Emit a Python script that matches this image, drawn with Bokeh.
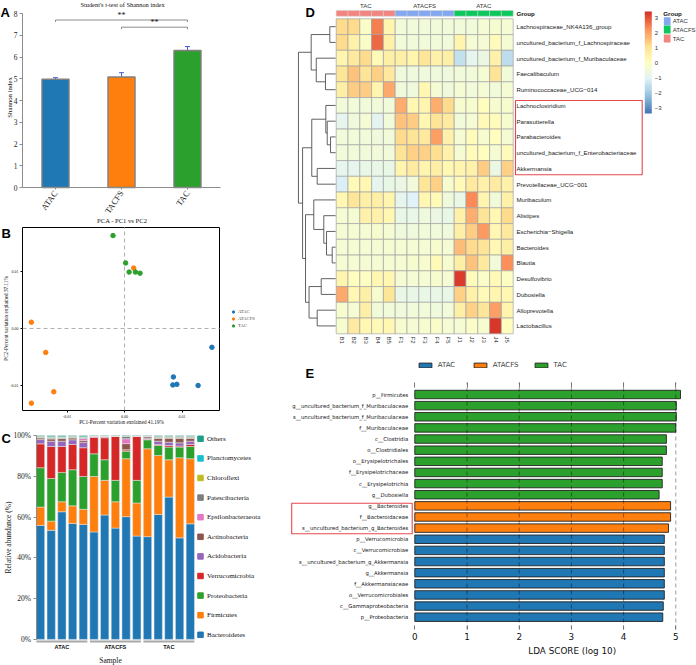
import math
import numpy as np
from bokeh.plotting import figure
from bokeh.models import (Range1d, FixedTicker, LinearAxis, Legend, LegendItem,
                          ColumnDataSource, Whisker, TeeHead, ColorBar, LinearColorMapper,
                          NumeralTickFormatter, PrintfTickFormatter)
from bokeh.layouts import row, column
from bokeh.embed import file_html
from bokeh.resources import INLINE
from bokeh.core.properties import value

# ======================= DATA =======================
# --- A: Shannon index
shannon_groups = ["ATAC", "TACFS", "TAC"]
shannon_mean = [4.98, 5.08, 6.30]
shannon_err = [0.07, 0.20, 0.18]
sig_pairs = [(1, 3), (2, 3)]          # bar positions compared
sig_level = [7.70, 7.37]
sig_text = ["**", "**"]
shannon_ticks = [0, 1, 2, 3, 4, 5, 6, 7, 8]

# --- B: PCA
pca_groups = ["ATAC", "ATACFS", "TAC"]
pc1_atac = [0.0152, 0.0085, 0.0084, 0.0091, 0.0128]
pc2_atac = [-0.0033, -0.0085, -0.0099, -0.0098, -0.0100]
pc1_atacfs = [0.0016, -0.0162, -0.0137, -0.0123, -0.0162]
pc2_atacfs = [0.0106, 0.0011, -0.0042, -0.0111, -0.0131]
pc1_tac = [-0.0020, 0.0002, 0.0008, 0.0019, 0.0027]
pc2_tac = [0.0163, 0.0115, 0.0099, 0.0099, 0.0097]
pca_ticks = [-0.01, 0.0, 0.01]

# --- C: relative abundance (phylum), 15 samples: ATAC x5, ATACFS x5, TAC x5
sample_groups = ["ATAC", "ATACFS", "TAC"]
samples_per_group = 5
phyla = ["Bacteroidetes", "Firmicutes", "Proteobacteria", "Verrucomicrobia", "Acidobacteria",
         "Actinobacteria", "Epsilonbacteraeota", "Patescibacteria", "Chloroflexi",
         "Planctomycetes", "Others"]
bacteroidetes = [55.9, 53.5, 62.6, 56.9, 56.4, 52.7, 61.0, 54.6, 60.2, 50.7, 50.4, 61.3, 69.8, 49.8, 56.7]
firmicutes = [9.0, 4.5, 4.9, 8.6, 7.4, 27.2, 17.0, 12.9, 28.4, 16.2, 43.1, 28.9, 18.3, 39.3, 31.9]
proteobacteria = [19.3, 20.9, 14.4, 17.7, 16.1, 11.1, 10.1, 10.5, 3.7, 11.1, 4.4, 4.9, 6.2, 5.2, 6.0]
verrucomicrobia = [11.7, 15.7, 12.7, 12.4, 14.1, 8.2, 10.8, 21.7, 0.7, 21.7, 0.2, 0.5, 0.8, 0.5, 1.0]
acidobacteria = [2.1, 2.6, 2.6, 2.3, 2.6, 0.1, 0.1, 0.0, 0.0, 0.0, 0.4, 1.6, 1.6, 1.6, 1.6]
actinobacteria = [0.9, 1.2, 1.3, 1.0, 0.9, 0.4, 0.5, 0.1, 3.0, 0.1, 0.9, 1.5, 2.0, 2.3, 1.5]
epsilonbacteraeota = [0.0, 0.0, 0.0, 0.0, 1.0, 0.0, 0.0, 0.0, 2.4, 0.0, 0.0, 0.0, 0.0, 0.0, 0.0]
patescibacteria = [0.3, 0.4, 0.4, 0.3, 0.4, 0.1, 0.2, 0.0, 1.2, 0.0, 0.2, 0.5, 0.5, 0.5, 0.5]
chloroflexi = [0.2, 0.3, 0.3, 0.2, 0.3, 0.0, 0.0, 0.0, 0.0, 0.0, 0.0, 0.2, 0.2, 0.2, 0.2]
planctomycetes = [0.1, 0.3, 0.2, 0.1, 0.2, 0.0, 0.0, 0.0, 0.0, 0.0, 0.1, 0.1, 0.1, 0.1, 0.1]
others = [0.5, 0.6, 0.6, 0.5, 0.6, 0.2, 0.3, 0.2, 0.4, 0.2, 0.3, 0.5, 0.5, 0.5, 0.5]
phylum_values = [bacteroidetes, firmicutes, proteobacteria, verrucomicrobia, acidobacteria,
                 actinobacteria, epsilonbacteraeota, patescibacteria, chloroflexi, planctomycetes, others]
abundance_ticks = [0, 20, 40, 60, 80, 100]

# --- D: heatmap (row z-scores)
heat_cols = ["B1", "B2", "B3", "B4", "B5", "F1", "F2", "F3", "F4", "F5", "J1", "J2", "J3", "J4", "J5"]
heat_col_groups = ["TAC", "ATACFS", "ATAC"]
heat_rows = ["Lachnospiraceae_NK4A136_group", "uncultured_bacterium_f_Lachnospiraceae",
             "uncultured_bacterium_f_Muribaculaceae", "Faecalibaculum", "Ruminococcaceae_UCG\u2212014",
             "Lachnoclostridium", "Parasutterella", "Parabacteroides",
             "uncultured_bacterium_f_Enterobacteriaceae", "Akkermansia", "Prevotellaceae_UCG\u2212001",
             "Muribaculum", "Alistipes", "Escherichia\u2212Shigella", "Bacteroides", "Blautia",
             "Desulfovibrio", "Dubosiella", "Alloprevotella", "Lactobacillus"]
heat_z = [
    [1.2, 1.2, -0.2, 2.4, 0.4, -0.5, -0.5, -0.5, -0.5, -0.5, -0.5, -0.5, -0.4, -0.3, -0.4],
    [1.2, 0.5, -0.2, 2.7, 0.5, -0.5, -0.5, -0.5, -0.5, -0.5, 0.4, -0.4, -0.4, 0.1, -0.4],
    [0.4, 0.8, 1.2, 0.2, 0.6, 0.6, 0.4, 0.9, 0.5, 0.6, -1.5, -0.9, -0.7, 0.5, -1.6],
    [0.9, 1.5, 1.0, 1.3, 0.8, -0.6, -0.6, -0.6, -0.6, -0.6, -0.5, -0.5, -0.4, 1.0, -0.5],
    [0.6, 1.4, 1.4, 0.4, 1.9, -0.6, -0.6, 0.3, -0.4, -0.6, -0.4, -0.5, -0.4, -0.5, -0.4],
    [-0.5, -0.5, -0.5, -0.5, -0.5, 1.8, 0.3, 0.4, 1.8, 1.2, -0.3, -0.3, 0.0, -0.3, -0.3],
    [-0.9, -0.6, -0.4, -1.0, -0.5, 1.5, 1.4, 0.3, 1.0, 0.7, -0.5, -0.4, 0.2, 0.1, -0.3],
    [-0.5, -0.5, -0.5, -0.6, -0.5, 1.2, 1.0, 0.8, 2.0, 0.5, -0.4, 0.1, -0.3, 0.0, -0.4],
    [-0.5, -0.5, -0.5, -0.5, -0.5, 1.0, 1.3, 1.3, 1.1, 0.5, -0.4, 0.1, 0.0, -0.4, 0.1],
    [-0.9, -0.9, -0.8, -0.8, -0.8, 0.4, 0.7, 0.4, 0.6, 0.3, 0.4, 0.5, 1.4, -0.7, 1.3],
    [-1.2, 0.2, 0.3, -0.9, -0.8, -0.7, -0.5, 0.9, 1.3, -0.3, 0.2, 0.8, 0.5, 0.7, 0.5],
    [0.3, 0.9, 0.6, 0.6, 0.4, -0.9, -1.1, 0.3, 0.2, -0.6, -0.8, 2.3, 0.4, -0.5, 0.5],
    [-0.4, -0.4, 0.5, 0.5, 0.3, -0.8, -0.8, -0.6, -0.7, -0.8, 0.5, 1.8, 1.0, 0.3, 1.2],
    [-0.4, -0.4, -0.4, -0.3, -0.4, -0.6, -0.6, -0.5, -0.5, -0.6, 0.6, 1.4, 2.1, 0.3, 0.8],
    [-0.4, -0.4, -0.4, -0.4, -0.4, -0.4, -0.4, -0.4, -0.3, -0.4, 1.6, 1.2, 1.0, 0.3, 0.6],
    [-0.4, -0.4, -0.4, -0.4, -0.4, -0.4, -0.3, -0.3, 0.2, -0.3, 0.6, 1.5, 0.8, -0.5, 2.2],
    [0.4, 0.0, -0.1, 0.3, 0.3, -0.4, -0.4, -0.4, -0.3, -0.4, 3.2, 0.1, -0.2, 0.2, -0.1],
    [1.9, 0.3, 0.6, -0.3, 0.9, -0.8, -0.8, -0.8, -0.8, -0.8, 1.3, 0.5, 0.2, 0.4, 0.3],
    [-0.3, -0.4, 0.6, -0.5, -0.5, -0.6, -0.5, -0.5, -0.6, -0.5, 0.6, 1.3, 0.9, 2.0, 0.4],
    [-0.3, 0.7, 0.3, 0.2, 0.3, -0.3, -0.4, -0.3, -0.2, -0.4, -0.4, -0.2, -0.3, 3.3, 0.0],
]
# row dendrogram merges: (child a, child b, merge height); leaves 0..19, new nodes 20..
dendro_merges = [
    (0, 1, 0.54), (3, 4, 0.91), (2, 21, 1.69), (20, 22, 2.12),
    (7, 8, 0.48), (6, 24, 0.76), (5, 25, 0.88), (9, 10, 1.61), (26, 27, 2.07),
    (14, 15, 0.34), (13, 29, 0.82), (12, 30, 1.05), (11, 31, 1.90),
    (16, 17, 1.27), (18, 19, 1.61), (33, 34, 2.30), (32, 35, 2.60),
    (28, 36, 2.85), (23, 37, 3.20),
]
legend_groups_D = ["ATAC", "ATACFS", "TAC"]
color_ticks = [-3, -2, -1, 0, 1, 2, 3]

# --- E: LEfSe LDA
lda_features = ["p__Firmicutes", "g__uncultured_bacterium_f_Muribaculaceae",
                "s__uncultured_bacterium_f_Muribaculaceae", "f__Muribaculaceae", "c__Clostridia",
                "o__Clostridiales", "o__Erysipelotrichales", "f__Erysipelotrichaceae",
                "c__Erysipelotrichia", "g__Dubosiella", "g__Bacteroides", "f__Bacteroidaceae",
                "s__uncultured_bacterium_g_Bacteroides", "p__Verrucomicrobia", "c__Verrucomicrobiae",
                "s__uncultured_bacterium_g_Akkermansia", "g__Akkermansia", "f__Akkermansiaceae",
                "o__Verrucomicrobiales", "c__Gammaproteobacteria", "p__Proteobacteria"]
lda_scores = [5.09, 5.01, 5.01, 5.00, 4.82, 4.82, 4.74, 4.74, 4.74, 4.68,
              4.90, 4.90, 4.86, 4.78, 4.78, 4.78, 4.78, 4.78, 4.78, 4.76, 4.75]
lda_groups = ["TAC"] * 10 + ["ATACFS"] * 3 + ["ATAC"] * 8
lda_legend = ["ATAC", "ATACFS", "TAC"]
lda_ticks = [0, 1, 2, 3, 4, 5]

# ======================= STYLE / LAYOUT =======================
SERIF = "Liberation Serif"
SANS = "Liberation Sans"
DJ = "DejaVu Sans"
BLUE, ORANGE, GREEN = "#1f77b4", "#ff7f0e", "#2ca02c"
PHY_COLORS = ["#1f77b4", "#ff7f0e", "#2ca02c", "#d62728", "#9467bd", "#8c564b", "#e377c2",
              "#7f7f7f", "#bcbd22", "#17becf", "#1a9f86"]


def fs(v):
    return f"{v:.1f}px"


def make_fig(box, X, Y):
    """Figure whose plotting frame fills the whole box; ranges follow the px->data maps."""
    fx0, fy0, fx1, fy1 = box
    p = figure(width=fx1 - fx0, height=fy1 - fy0,
               x_range=Range1d(X(fx0), X(fx1)), y_range=Range1d(Y(fy1), Y(fy0)),
               x_axis_location=None, y_axis_location=None,
               min_border=0, min_border_left=0, min_border_right=0, min_border_top=0,
               min_border_bottom=0, toolbar_location=None, output_backend="svg")
    p.outline_line_color = None
    p.grid.visible = False
    return p


def txt(p, x, y, text, size, font=SERIF, style="normal", align="center", baseline="middle",
        angle=0.0, color="#111111"):
    p.text(x=x, y=y, text=text, text_align=align, text_baseline=baseline, angle=angle,
           text_font=value(font), text_font_size=value(fs(size)), text_font_style=style,
           text_color=color)


def letter(p, x, y, t):
    txt(p, [x], [y], [t], 13, font=SANS, style="bold", align="left", baseline="alphabetic",
        color="black")


def style_axis(ax, font, size, color="#8c8c8c"):
    ax.axis_line_color = color
    ax.major_tick_line_color = color
    ax.minor_tick_line_color = None
    ax.major_tick_in = 0
    ax.major_tick_out = 3
    ax.major_label_text_font = font
    ax.major_label_text_font_size = fs(size)
    ax.major_label_text_color = "#222222"
    ax.major_label_standoff = 2


# ---------------------------- Panel A ----------------------------
AX = lambda px: 1 + (px - 55) / 66.0
AY = lambda py: (187 - py) / 21.75
pA = make_fig((0, 0, 290, 215), AX, AY)
xa = list(range(1, len(shannon_groups) + 1))
pA.vbar(x=xa, top=shannon_mean, width=0.41, fill_color=[BLUE, ORANGE, GREEN],
        line_color="#808080", line_width=1.4)
EB = "#3f5fd8"
wsrc = ColumnDataSource(dict(base=xa,
                             upper=[m + e for m, e in zip(shannon_mean, shannon_err)],
                             lower=[m - e for m, e in zip(shannon_mean, shannon_err)]))
wh = Whisker(source=wsrc, base="base", upper="upper", lower="lower", line_color=EB, line_width=1)
wh.upper_head = TeeHead(size=5, line_color=EB, line_width=1)
wh.lower_head = TeeHead(size=5, line_color=EB, line_width=1)
pA.add_layout(wh)
pA.multi_line(xs=[[a, a, b, b] for a, b in sig_pairs],
              ys=[[y - 0.09, y, y, y - 0.09] for y in sig_level],
              line_color="#707070", line_width=0.8)
txt(pA, [(a + b) / 2 for a, b in sig_pairs], [y + 0.2 for y in sig_level], sig_text, 8)
yaxA = LinearAxis(fixed_location=AX(22), bounds=(0, 8), ticker=FixedTicker(ticks=shannon_ticks))
style_axis(yaxA, SERIF, 7.5)
pA.add_layout(yaxA, "left")
xaxA = LinearAxis(fixed_location=0, bounds=(AX(22), AX(220)), ticker=FixedTicker(ticks=xa),
                  major_label_overrides={i: g for i, g in zip(xa, shannon_groups)})
style_axis(xaxA, SERIF, 8.5)
xaxA.major_label_orientation = 0.96
xaxA.major_tick_out = 2
pA.add_layout(xaxA, "below")
txt(pA, [AX(9)], [AY(97)], ["Shannon index"], 6.8, angle=math.pi / 2)
txt(pA, [AX(122)], [AY(4)], ["Student's t-test of Shannon index"], 6.4)
letter(pA, AX(0), AY(11.7), "A")

# ---------------------------- Panel B ----------------------------
BX = lambda px: (px - 124) / 57.5 * 0.01
BY = lambda py: (328 - py) / 57.0 * 0.01
pB = make_fig((0, 215, 290, 424), BX, BY)
pB.quad(left=[BX(22)], right=[BX(219)], top=[BY(227)], bottom=[BY(410)], fill_color=None,
        line_color="black", line_width=1)
pB.segment(x0=[0, BX(22)], y0=[BY(410), 0], x1=[0, BX(219)], y1=[BY(227), 0],
           line_color="#b0b0b0", line_dash="4 3", line_width=1)
items = []
for g, xs, ys, c in zip(pca_groups, [pc1_atac, pc1_atacfs, pc1_tac], [pc2_atac, pc2_atacfs, pc2_tac],
                        [BLUE, ORANGE, GREEN]):
    r = pB.scatter(xs, ys, size=4.5, fill_color=c, line_color=c)
    items.append(LegendItem(label=g, renderers=[r]))
legB = Legend(items=items, location=(230, 424 - 329.2), padding=0, margin=0, spacing=0,
              glyph_width=6, glyph_height=7, label_height=7, label_standoff=2,
              label_text_font=SERIF, label_text_font_size=fs(4.6), border_line_color=None,
              background_fill_alpha=0)
pB.add_layout(legB)
xaxB = LinearAxis(fixed_location=BY(410), bounds=(BX(22), BX(219)),
                  ticker=FixedTicker(ticks=pca_ticks), formatter=NumeralTickFormatter(format="0.00"))
yaxB = LinearAxis(fixed_location=BX(22), bounds=(BY(410), BY(227)),
                  ticker=FixedTicker(ticks=pca_ticks), formatter=NumeralTickFormatter(format="0.00"))
for ax in (xaxB, yaxB):
    style_axis(ax, SERIF, 4.0, color="black")
    ax.axis_line_color = None
    ax.major_tick_out = 2
pB.add_layout(xaxB, "below")
pB.add_layout(yaxB, "left")
txt(pB, [BX(121)], [BY(421)], ["PC1-Percent variation explained 41.19%"], 5.2)
txt(pB, [BX(5)], [BY(318)], ["PC2-Percent variation explained 37.11%"], 5.2, angle=math.pi / 2)
txt(pB, [BX(121.7)], [BY(219.5)], ["PCA - PC1 vs PC2"], 6.6)
letter(pB, BX(1), BY(233), "B")

# ---------------------------- Panel C ----------------------------
CX = lambda px: 1 + (px - 40) / 10.7
CY = lambda py: (638.9 - py) / 2.039
pC = make_fig((0, 424, 290, 665), CX, CY)
n_samples = len(bacteroidetes)
csrc = dict(x=list(range(1, n_samples + 1)))
for name, vals in zip(phyla, phylum_values):
    csrc[name] = vals
pC.vbar_stack(phyla, x="x", width=0.78, color=PHY_COLORS, source=ColumnDataSource(csrc),
              line_color="#e6e6e6", line_width=0.5)
g_start = [1 + i * samples_per_group for i in range(len(sample_groups))]
pC.segment(x0=[s - 0.38 for s in g_start], y0=[CY(641)] * 3,
           x1=[s + samples_per_group - 1 + 0.38 for s in g_start], y1=[CY(641)] * 3,
           line_color="#a8a8a8", line_width=2.2)
yaxC = LinearAxis(fixed_location=CX(35.5), bounds=(0, 100), ticker=FixedTicker(ticks=abundance_ticks),
                  formatter=PrintfTickFormatter(format="%d%%"))
style_axis(yaxC, SERIF, 7.5)
pC.add_layout(yaxC, "left")
txt(pC, [s + (samples_per_group - 1) / 2 for s in g_start], [CY(646.5)] * 3, sample_groups, 5.6,
    font=SANS, style="bold")
txt(pC, [CX(110)], [CY(660)], ["Sample"], 7.5)
txt(pC, [CX(8)], [CY(537)], ["Relative abundance (%)"], 7.5, angle=math.pi / 2)
leg_names = phyla[::-1]
leg_cols = PHY_COLORS[::-1]
leg_y = [CY(438.3 + i * 19.6) for i in range(len(leg_names))]
pC.scatter(x=[CX(200)] * len(leg_names), y=leg_y, marker="square", size=5.5,
           fill_color=leg_cols, line_color=leg_cols)
txt(pC, [CX(206.5)] * len(leg_names), leg_y, leg_names, 7.0, align="left")
letter(pC, CX(1), CY(437.5), "C")

# ---------------------------- Panel D ----------------------------
DX = lambda px: (px - 335.7) / 11.8
DY = lambda py: 20 - (py - 18.3) / 15.75
pD = make_fig((290, 0, 696, 352), DX, DY)
base7 = ["#4575B4", "#91BFDB", "#E0F3F8", "#FFFFBF", "#FEE090", "#FC8D59", "#D73027"]
rgb = np.array([[int(c[i:i + 2], 16) for i in (1, 3, 5)] for c in base7], dtype=float)
pal = []
for t in np.linspace(0, 6, 100):
    i0 = min(int(t), 5)
    f = t - i0
    cc = rgb[i0] * (1 - f) + rgb[i0 + 1] * f
    pal.append("#%02x%02x%02x" % tuple(int(round(v)) for v in cc))
mapper = LinearColorMapper(palette=pal, low=-3.4, high=3.4)
nrow, ncol = len(heat_rows), len(heat_cols)
hx, hy, hz = [], [], []
for r in range(nrow):
    for c in range(ncol):
        hx.append(c + 0.5)
        hy.append(nrow - r - 0.5)
        hz.append(heat_z[r][c])
pD.rect(x="x", y="y", width=1, height=1, source=ColumnDataSource(dict(x=hx, y=hy, z=hz)),
        fill_color={"field": "z", "transform": mapper}, line_color="#a3a3a3", line_width=0.7)
GRP_COL = {"TAC": "#F2857F", "ATACFS": "#82A9F0", "ATAC": "#0CC85C"}
strip_cols = [GRP_COL[g] for g in heat_col_groups for _ in range(5)]
sy0, sy1 = DY(15.7), DY(10)
pD.rect(x=[c + 0.5 for c in range(ncol)], y=[(sy0 + sy1) / 2] * ncol, width=1, height=sy1 - sy0,
        fill_color=strip_cols, line_color="#d0d0d0", line_width=0.5)
txt(pD, [2.5, 7.5, 12.5], [DY(5)] * 3, heat_col_groups, 6, font=SANS, color="#333333")
txt(pD, [DX(516)] * nrow, [nrow - r - 0.5 for r in range(nrow)], heat_rows, 6.1, font=SANS,
    align="left", color="#222222")
txt(pD, [DX(516)], [(sy0 + sy1) / 2], ["Group"], 6.1, font=SANS, style="bold", align="left")
txt(pD, [c + 0.5 for c in range(ncol)], [DY(336)] * ncol, heat_cols, 6, font=SANS, align="left",
    angle=-math.pi / 2, color="#333333")
pD.quad(left=[DX(515)], right=[DX(641.7)], top=[DY(100)], bottom=[DY(174.3)],
        fill_color=None, line_color="#e5484d", line_width=1.1)
node_x = {i: -0.05 for i in range(nrow)}
node_y = {i: nrow - i - 0.5 for i in range(nrow)}
dxs, dys = [], []
for k, (a, b, hgt) in enumerate(dendro_merges):
    nid = nrow + k
    xm = -hgt
    dxs.append([node_x[a], xm, xm, node_x[b]])
    dys.append([node_y[a], node_y[a], node_y[b], node_y[b]])
    node_x[nid] = xm
    node_y[nid] = (node_y[a] + node_y[b]) / 2
pD.multi_line(xs=dxs, ys=dys, line_color="#505050", line_width=0.9)
cb = ColorBar(color_mapper=mapper, location=(644.3 - 290, 352 - 113),
              orientation="vertical", width=7, height=102,
              padding=0, margin=0, ticker=FixedTicker(ticks=color_ticks),
              major_label_text_font=SANS, major_label_text_font_size=fs(6),
              major_label_text_color="#333333", major_tick_line_color=None,
              minor_tick_line_color=None, bar_line_color=None, border_line_color=None,
              background_fill_alpha=0, label_standoff=3)
pD.add_layout(cb)
txt(pD, [DX(662.7)], [DY(12.7)], ["Group"], 6.2, font=SANS, style="bold", align="left")
gl_y = [DY(20.7), DY(29), DY(38)]
pD.rect(x=[DX(666.7)] * 3, y=gl_y, width=6.7 / 11.8, height=8 / 15.75,
        fill_color=["#82A9F0", "#0CC85C", "#F2857F"], line_color=None)
txt(pD, [DX(672.3)] * 3, gl_y, legend_groups_D, 6, font=SANS, align="left", color="#333333")
letter(pD, DX(305), DY(11.7), "D")

# ---------------------------- Panel E ----------------------------
EX = lambda px: (px - 414.3) / 52.2
EY = lambda py: 20 - (py - 394) / 11.135
pE = make_fig((290, 352, 696, 665), EX, EY)
nE = len(lda_features)
ey = [nE - 1 - i for i in range(nE)]
GRP_E = {"ATAC": BLUE, "ATACFS": ORANGE, "TAC": GREEN}
eitems = []
for g in lda_legend:
    idx = [i for i in range(nE) if lda_groups[i] == g]
    r = pE.hbar(y=[ey[i] for i in idx], left=0, right=[lda_scores[i] for i in idx], height=0.76,
                fill_color=GRP_E[g], line_color="#222222", line_width=0.9)
    eitems.append(LegendItem(label=g, renderers=[r]))
pE.segment(x0=lda_ticks[1:], y0=[EY(629)] * 5, x1=lda_ticks[1:], y1=[EY(382)] * 5,
           line_color="black", line_alpha=0.4, line_dash="4 3", line_width=1)
txt(pE, [EX(407.7)] * nE, ey, lda_features, 5.35, font=DJ, align="right")
pE.quad(left=[EX(291.2)], right=[EX(411.7)], top=[EY(502.7)], bottom=[EY(533.3)],
        fill_color=None, line_color="#e5484d", line_width=1.1)
xaxE = LinearAxis(fixed_location=EY(625), bounds=(0, 5), ticker=FixedTicker(ticks=lda_ticks))
style_axis(xaxE, DJ, 8.8, color="#777777")
xaxE.axis_line_color = None
xaxE.major_tick_out = 4
xaxE.major_label_standoff = 3
xaxE.major_label_text_color = "#111111"
pE.add_layout(xaxE, "below")
topE = LinearAxis(fixed_location=EY(387), bounds=(0, 5), ticker=FixedTicker(ticks=lda_ticks),
                  major_label_overrides={t: "" for t in lda_ticks})
style_axis(topE, DJ, 8.8, color="#777777")
topE.axis_line_color = None
topE.major_tick_out = 5
pE.add_layout(topE, "above")
txt(pE, [EX(571.7)], [EY(650)], ["LDA SCORE (log 10)"], 8.8, font=DJ)
legE = Legend(items=eitems, location=(416.7 - 290, 665 - 369), orientation="horizontal",
              padding=0, margin=0, spacing=14, glyph_width=16, glyph_height=6, label_height=6,
              label_standoff=5, label_text_font=DJ, label_text_font_size=fs(7),
              border_line_color=None, background_fill_alpha=0)
pE.add_layout(legE)
letter(pE, EX(305), EY(373), "E")

layout = row(column(pA, pB, pC), column(pD, pE))
open("out.html", "w").write(file_html(layout, INLINE))
